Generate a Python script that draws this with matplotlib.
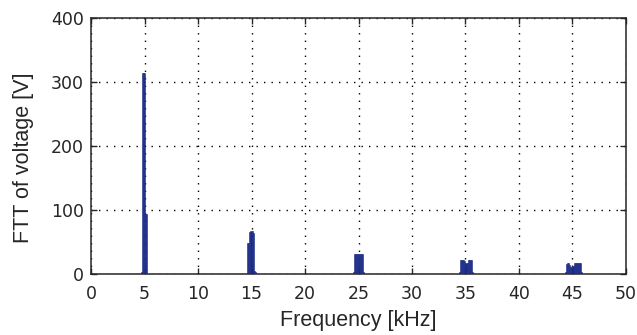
import matplotlib
matplotlib.use("Agg")
import matplotlib.pyplot as plt

plt.rcParams['font.family'] = ['Liberation Sans', 'DejaVu Sans']

# Spectrum bins (kHz) and FFT magnitudes (V) around each odd harmonic
freq_5 = [4.70, 4.80, 4.90, 5.00, 5.10, 5.20]
amp_5 = [3, 314, 314, 314, 94, 94]
freq_15 = [14.65, 14.75, 14.85, 14.95, 15.05, 15.15, 15.25, 15.35]
amp_15 = [48, 48, 66, 68, 67, 65, 5, 3]
freq_25 = [24.50, 24.60, 24.70, 24.80, 24.90, 25.00, 25.10, 25.20, 25.30, 25.40, 25.50]
amp_25 = [4, 31, 31, 31, 31, 31, 31, 31, 31, 31, 4]
freq_35 = [34.45, 34.55, 34.65, 34.75, 34.85, 34.95, 35.05, 35.15, 35.25, 35.35, 35.45, 35.55, 35.65]
amp_35 = [3, 22, 22, 22, 22, 20, 17, 18, 22, 22, 22, 22, 4]
freq_45 = [44.35, 44.45, 44.55, 44.65, 44.75, 44.85, 44.95, 45.05, 45.15, 45.25, 45.35, 45.45, 45.55, 45.65, 45.75, 45.85]
amp_45 = [4, 16, 17, 17, 14, 11, 11, 13, 17, 18, 18, 18, 18, 18, 17, 4]

freqs = freq_5 + freq_15 + freq_25 + freq_35 + freq_45
amps = amp_5 + amp_15 + amp_25 + amp_35 + amp_45

x_ticks = list(range(0, 51, 5))
y_ticks = [0, 100, 200, 300, 400]

text_color = '#262626'

fig = plt.figure(figsize=(6.37, 3.35), dpi=100)
ax = fig.add_axes([0.1429, 0.1815, 0.8398, 0.7638])

ax.bar(freqs, amps, width=0.1, color='#1b2a86', edgecolor='#1b2a86',
       linewidth=0.4, align='center', zorder=3)

ax.set_xlim(0, 50)
ax.set_ylim(0, 400)
ax.set_xticks(x_ticks)
ax.set_yticks(y_ticks)
ax.grid(True, linestyle=(0, (1, 4.4)), color='black', linewidth=1.0)
ax.set_axisbelow(True)

ax.tick_params(direction='in', length=4, width=1, top=True, right=True,
               colors=text_color)
ax.tick_params(axis='x', pad=8)
ax.tick_params(axis='y', pad=5)
for lab in ax.get_xticklabels() + ax.get_yticklabels():
    lab.set_fontfamily(['DejaVu Sans'])
    lab.set_fontsize(12.5)
for s in ax.spines.values():
    s.set_linewidth(1.1)
    s.set_color(text_color)

ax.set_xlabel('Frequency [kHz]', fontsize=15.5, color=text_color, labelpad=5)
ax.set_ylabel('FTT of voltage [V]', fontsize=15.5, color=text_color)
ax.yaxis.set_label_coords(-0.107, 0.457)

fig.savefig('out.png', dpi=100)
